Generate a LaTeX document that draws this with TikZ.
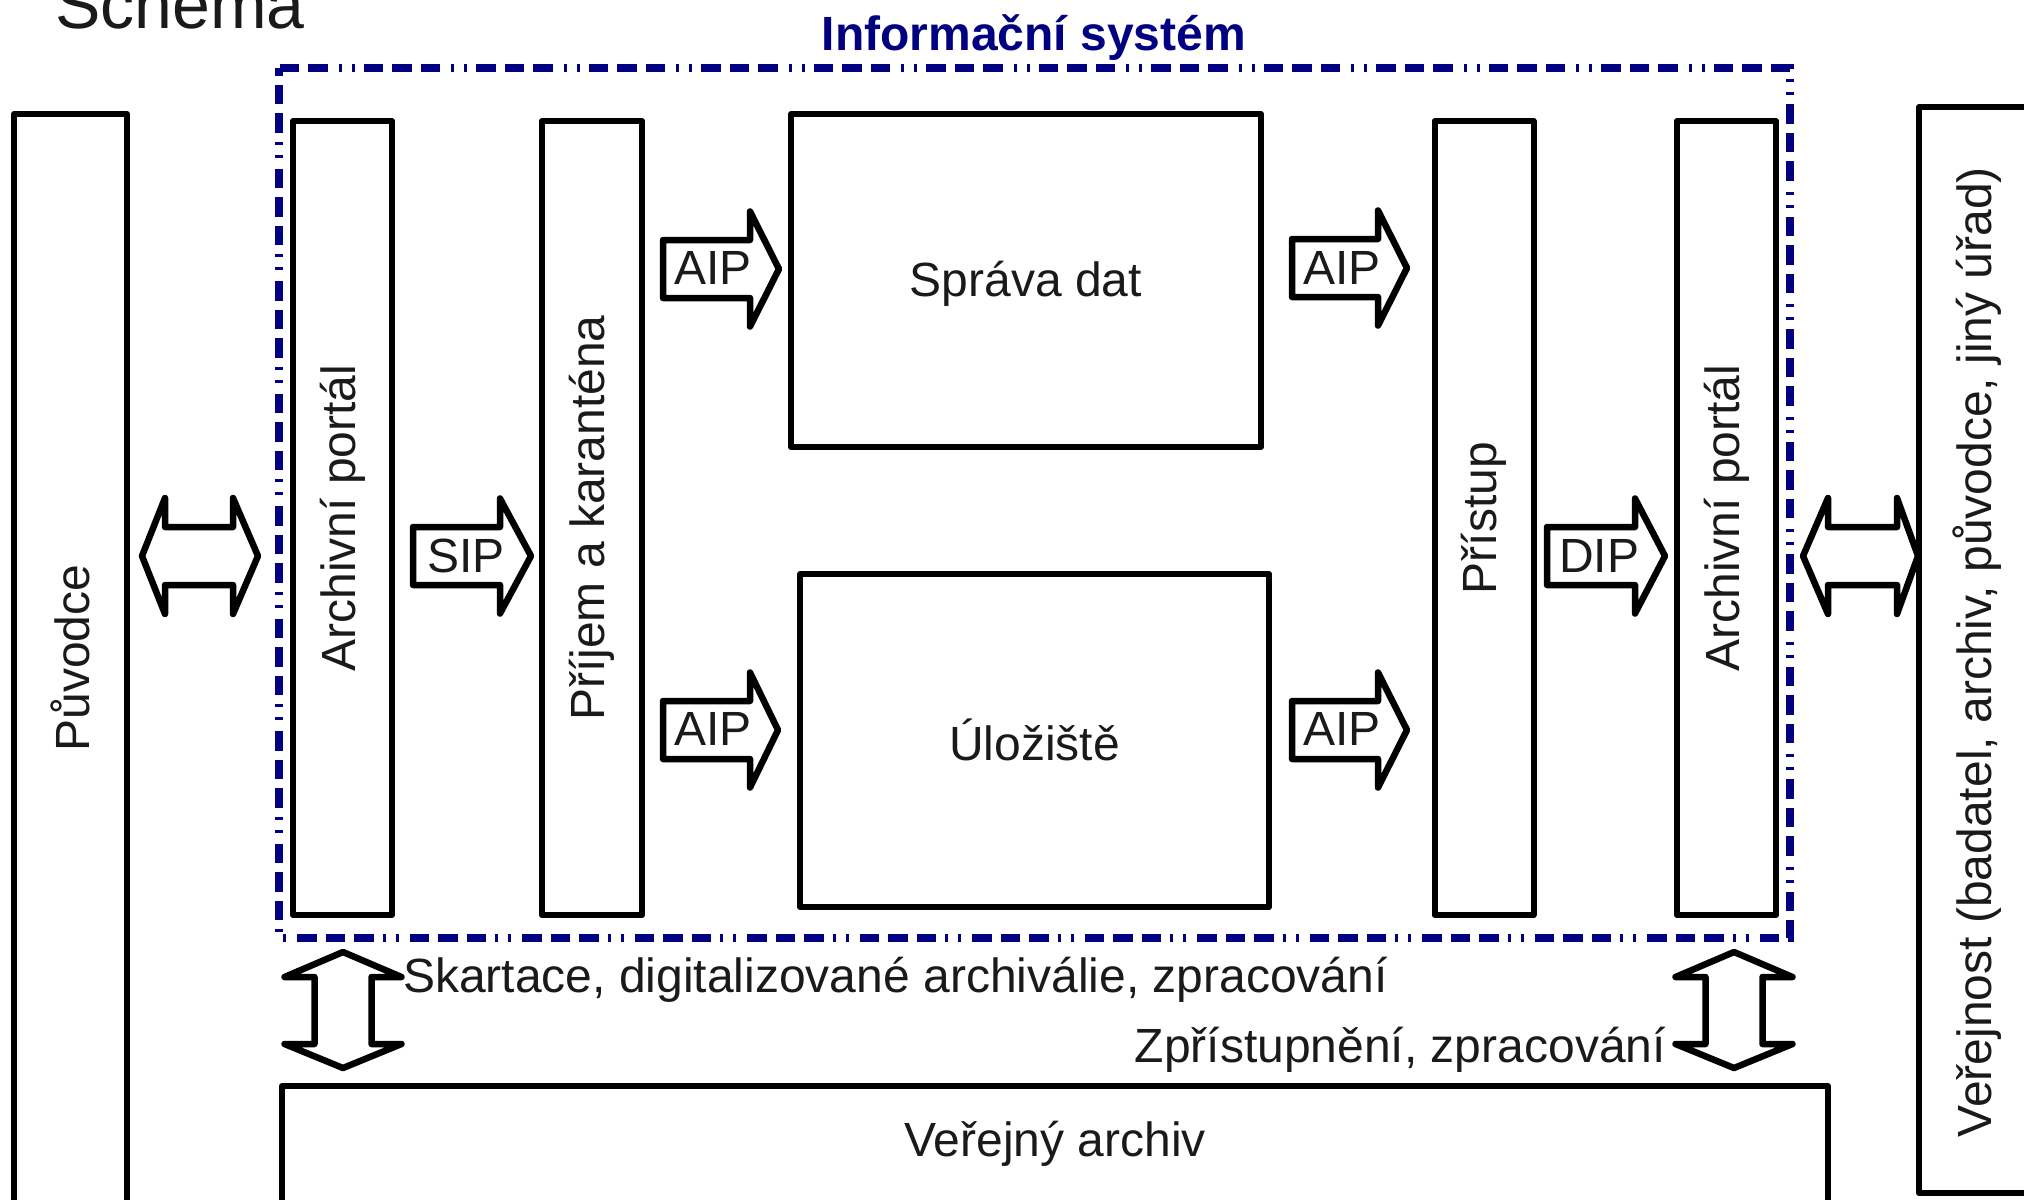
\documentclass[tikz,border=0pt]{standalone}
\usepackage{fontspec}
\setmainfont{Liberation Sans}
\definecolor{navy}{RGB}{0,0,128}
\definecolor{ink}{RGB}{26,26,26}
% single right block arrow: shaft-left, head-base, tip, centre-y
\newcommand\blkR[4]{\draw[blk] (#1,#4-29) -- (#2,#4-29) -- (#2,#4-57.5) -- (#3,#4) -- (#2,#4+57.5) -- (#2,#4+29) -- (#1,#4+29) -- cycle;}
% horizontal double block arrow: left tip, left base, right base, right tip, centre-y
\newcommand\blkH[5]{\draw[blk] (#1,#5) -- (#2,#5-58) -- (#2,#5-29) -- (#3,#5-29) -- (#3,#5-58) -- (#4,#5) -- (#3,#5+58) -- (#3,#5+29) -- (#2,#5+29) -- (#2,#5+58) -- cycle;}
% vertical double block arrow: centre-x, top tip, top base, bottom base, bottom tip
\newcommand\blkV[5]{\draw[blk] (#1,#2) -- (#1+58.5,#3) -- (#1+28.5,#3) -- (#1+28.5,#4) -- (#1+58.5,#4) -- (#1,#5) -- (#1-58.5,#4) -- (#1-28.5,#4) -- (#1-28.5,#3) -- (#1-58.5,#3) -- cycle;}
\begin{document}
\begin{tikzpicture}[x=1bp,y=-1bp,
  box/.style={draw=black, line width=6bp, line join=round, inner sep=0pt},
  blk/.style={draw=black, line width=6.5bp, line join=round, fill=white},
  txt/.style={text=ink, font=\fontsize{48bp}{56bp}\selectfont, inner sep=0pt},
  lbl/.style={txt, anchor=base west},
  isys/.style={draw=navy, line width=7.5bp,
    dash pattern=on 19.5bp off 9bp on 19.5bp off 9bp on 19.5bp off 9bp on 3bp off 10bp on 3bp off 11bp,
    dash phase=12bp}]
\useasboundingbox (0,0) rectangle (2024,1199);
\clip (0,0) rectangle (2024,1199);

% title
\node[txt, anchor=base west, font=\fontsize{68bp}{80bp}\selectfont] (title) at (55,28) {Schema};

% information system frame
\draw[isys] (279,68) rectangle (1790,938);
\node[anchor=base, inner sep=0pt, text=navy, font=\fontsize{48bp}{56bp}\selectfont\bfseries] (istitle) at (1034,50) {Informační systém};

% outer boxes
\node[box, minimum width=113bp, minimum height=1120bp] (puv) at (70.5,674) {};
\node[txt, rotate=90] (puvt) at (70.5,658) {Původce};
\node[box, minimum width=117bp, minimum height=1086bp] (ver) at (1977.5,650) {};
\node[txt, rotate=90] (vert) at (1977.5,652) {Veřejnost (badatel, archiv, původce, jiný úřad)};
\node[box, minimum width=1546bp, minimum height=160bp] (va) at (1055,1166) {};
\node[txt] (vat) at (1055,1144) {Veřejný archiv};

% inner boxes
\node[box, txt, rotate=90, minimum width=794bp, minimum height=99bp] (ap1) at (342.5,518) {Archivní portál};
\node[box, txt, rotate=90, minimum width=794bp, minimum height=100bp] (pk) at (592,518) {Příjem a karanténa};
\node[box, minimum width=470bp, minimum height=333bp] (sd) at (1026,280.5) {};
\node[txt] (sdt) at (1026,284) {Správa dat};
\node[box, minimum width=469bp, minimum height=333bp] (ul) at (1034.5,740.5) {};
\node[txt] (ult) at (1034.5,740) {Úložiště};
\node[box, txt, rotate=90, minimum width=794bp, minimum height=99bp] (pr) at (1484,518) {Přístup};
\node[box, txt, rotate=90, minimum width=794bp, minimum height=99bp] (ap2) at (1726.5,518) {Archivní portál};

% block arrows
\blkH{142}{165}{233}{258}{556}
\blkR{413}{500}{531}{556}
\node[lbl] (sip) at (427,572) {SIP};
\blkR{663}{750}{779}{269}
\node[lbl] (aip1) at (674,284) {AIP};
\blkR{663}{750}{778}{730}
\node[lbl] (aip2) at (674,745) {AIP};
\blkR{1292}{1378}{1407}{268}
\node[lbl] (aip3) at (1303,284) {AIP};
\blkR{1292}{1378}{1407}{730}
\node[lbl] (aip4) at (1303,745) {AIP};
\blkR{1547}{1635}{1665}{556}
\node[lbl] (dip) at (1559,572) {DIP};
\blkH{1803}{1828}{1897}{1918}{556}

\blkV{343}{952}{977}{1044}{1068}
\blkV{1734}{952}{977}{1044}{1068}

\node[lbl] (skart) at (403,992) {Skartace, digitalizované archiválie, zpracování};
\node[txt, anchor=base east] (zpr) at (1666,1062) {Zpřístupnění, zpracování};
\end{tikzpicture}
\end{document}
